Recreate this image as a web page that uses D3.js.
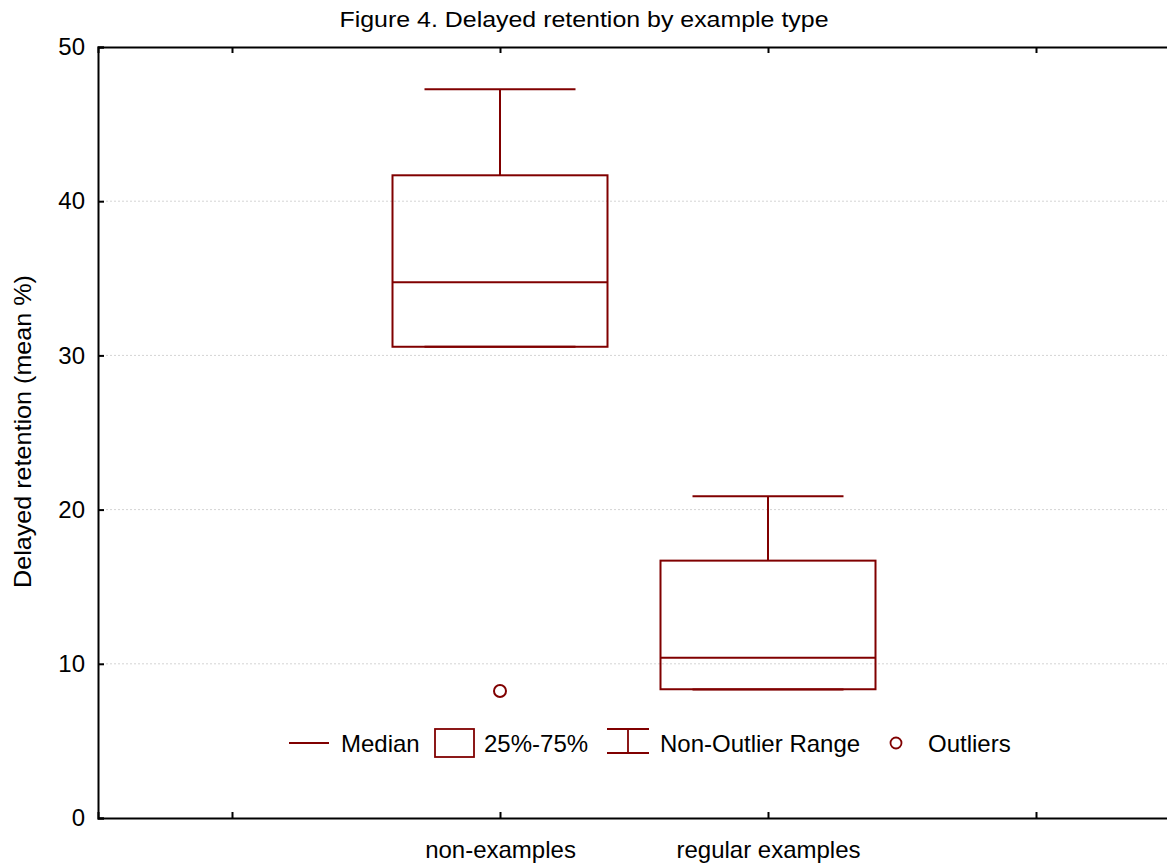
<!DOCTYPE html>
<html>
<head>
<meta charset="utf-8">
<script src="https://cdn.jsdelivr.net/npm/d3@7"></script>
<style>
    body { margin: 0; background: #fff; }
    text { font-family: "Liberation Sans", Arial, sans-serif; fill: #000; }
</style>
</head>
<body>
<svg id="chart" width="1167" height="865"></svg>
<script>
// categories along the x axis (empty slots at both ends, as in the original)
const categories = ["", "non-examples", "regular examples", " "];
// box statistics
const boxCats = ["non-examples", "regular examples"];
const whiskerLow = [30.56, 8.33];
const q1 = [30.56, 8.35];
const medians = [34.74, 10.40];
const q3 = [41.68, 16.69];
const whiskerHigh = [47.26, 20.86];
const outliers = [[8.24], []];
const yTicks = [0, 10, 20, 30, 40, 50];

const dark = "#800000";
const svg = d3.select("#chart");
const margin = { left: 98, top: 47, right: -3, bottom: 47 };
const W = 1167, H = 865;

const x = d3.scalePoint().domain(categories).range([margin.left, W - margin.right]).padding(0.5);
const y = d3.scaleLinear().domain([0, 50]).range([H - margin.bottom, margin.top]);

// grid lines
svg.append("g").selectAll("line")
    .data(yTicks.filter(t => t > 0 && t < 50))
    .enter().append("line")
    .attr("x1", margin.left).attr("x2", W)
    .attr("y1", d => y(d)).attr("y2", d => y(d))
    .attr("stroke", "#d4d4d4").attr("stroke-width", 1)
    .attr("stroke-dasharray", "2,2");

// axes: ticks point inward
const leftAxis = d3.axisLeft(y).tickValues(yTicks).tickSize(-6).tickPadding(13);
const bottomAxis = d3.axisBottom(x).tickSize(-6).tickPadding(23);
const topAxis = d3.axisTop(x).tickSize(-6).tickFormat("");

svg.append("g").attr("transform", `translate(${margin.left},0)`).call(leftAxis)
    .call(g => g.selectAll("text").attr("font-size", 24));
svg.append("g").attr("transform", `translate(0,${y(0)})`).call(bottomAxis)
    .call(g => g.selectAll("text").attr("font-size", 24));
svg.append("g").attr("transform", `translate(0,${y(50)})`).call(topAxis);
svg.selectAll(".domain").attr("stroke-width", 2);
svg.selectAll(".tick line").attr("stroke-width", 2);

// boxes
const boxW = 215, capW = 151;
const g = svg.append("g").attr("fill", "none").attr("stroke", dark).attr("stroke-width", 2);
boxCats.forEach((c, i) => {
    const cx = x(c);
    g.append("line").attr("x1", cx).attr("x2", cx).attr("y1", y(q3[i])).attr("y2", y(whiskerHigh[i]));
    g.append("line").attr("x1", cx).attr("x2", cx).attr("y1", y(q1[i])).attr("y2", y(whiskerLow[i]));
    g.append("line").attr("x1", cx - capW / 2).attr("x2", cx + capW / 2).attr("y1", y(whiskerHigh[i])).attr("y2", y(whiskerHigh[i]));
    g.append("line").attr("x1", cx - capW / 2).attr("x2", cx + capW / 2).attr("y1", y(whiskerLow[i])).attr("y2", y(whiskerLow[i]));
    g.append("rect").attr("x", cx - boxW / 2).attr("width", boxW)
        .attr("y", y(q3[i])).attr("height", y(q1[i]) - y(q3[i]));
    g.append("line").attr("x1", cx - boxW / 2).attr("x2", cx + boxW / 2).attr("y1", y(medians[i])).attr("y2", y(medians[i]));
    outliers[i].forEach(v => {
        g.append("circle").attr("cx", cx).attr("cy", y(v)).attr("r", 6).attr("stroke-width", 2);
    });
});

// title and axis label
svg.append("text").attr("x", 584).attr("y", 27).attr("text-anchor", "middle")
    .attr("font-size", 22).attr("textLength", 489).attr("lengthAdjust", "spacingAndGlyphs")
    .text("Figure 4. Delayed retention by example type");
svg.append("text").attr("transform", `translate(31,${y(25) - 1}) rotate(-90)`)
    .attr("text-anchor", "middle").attr("font-size", 24)
    .attr("textLength", 313).attr("lengthAdjust", "spacingAndGlyphs")
    .text("Delayed retention (mean %)");

// legend
const ly = 743;
const lg = svg.append("g");
const ls = lg.append("g").attr("fill", "none").attr("stroke", dark).attr("stroke-width", 1.8);
ls.append("line").attr("x1", 289).attr("x2", 329).attr("y1", ly).attr("y2", ly);
ls.append("rect").attr("x", 435).attr("y", 729).attr("width", 39).attr("height", 28);
ls.append("line").attr("x1", 607).attr("x2", 649).attr("y1", 729).attr("y2", 729);
ls.append("line").attr("x1", 607).attr("x2", 649).attr("y1", 753).attr("y2", 753);
ls.append("line").attr("x1", 628).attr("x2", 628).attr("y1", 729).attr("y2", 753);
ls.append("circle").attr("cx", 896).attr("cy", ly).attr("r", 5.5).attr("stroke-width", 1.8);
const legendText = [["Median", 341], ["25%-75%", 484], ["Non-Outlier Range", 660], ["Outliers", 928]];
lg.selectAll("text.lt").data(legendText).enter().append("text")
    .attr("x", d => d[1]).attr("y", ly + 8.5).attr("font-size", 24).text(d => d[0]);
</script>
</body>
</html>
